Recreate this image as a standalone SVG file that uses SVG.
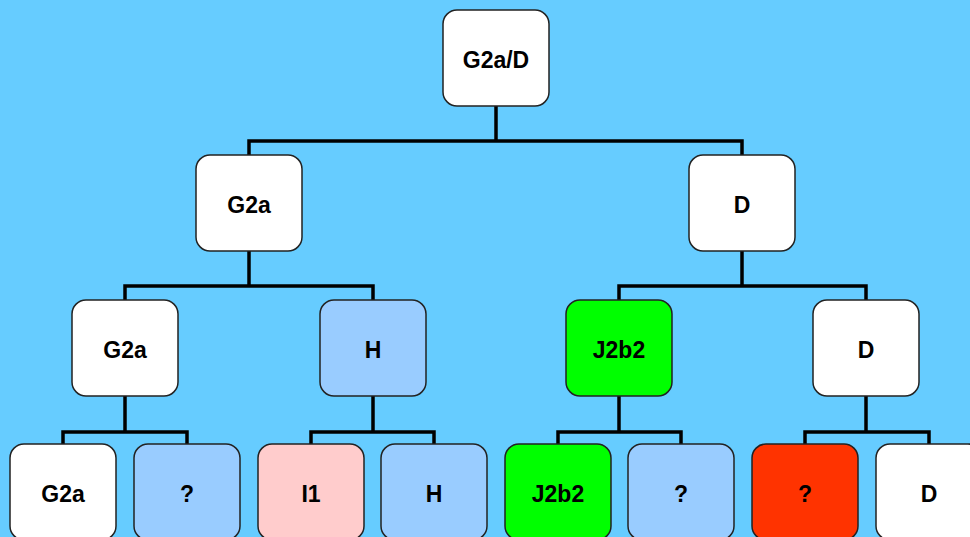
<svg xmlns="http://www.w3.org/2000/svg" width="970" height="537" viewBox="0 0 970 537">
<style>
.n rect{stroke:#222;stroke-width:1.5}
.n text{font-family:"Liberation Sans",Arial,sans-serif;font-weight:bold;font-size:23px;text-anchor:middle;fill:#000}
.w{fill:#fff}.b{fill:#99CCFF}.p{fill:#FFCCCC}.g{fill:#00FF00}.r{fill:#FF3300}
#connectors path{fill:none;stroke:#000;stroke-width:3.5}
</style>
<rect width="970" height="537" fill="#66CCFF"/>
<g id="connectors">
<path d="M496 106V141M249 155V141H742V155"/>
<path d="M249 251V286M125 300V286H373V300"/>
<path d="M742 251V286M619 300V286H866V300"/>
<path d="M125 396V432M63 444V432H187V444"/>
<path d="M373 396V432M311 444V432H434V444"/>
<path d="M619 396V432M558 444V432H681V444"/>
<path d="M866 396V432M805 444V432H929V444"/>
</g>
<g id="root" class="n"><rect class="w" x="443" y="10" width="106" height="96" rx="14"/><text x="496" y="68">G2a/D</text></g>
<g id="l1-g2a" class="n"><rect class="w" x="196" y="155" width="106" height="96" rx="14"/><text x="249" y="213">G2a</text></g>
<g id="l1-d" class="n"><rect class="w" x="689" y="155" width="106" height="96" rx="14"/><text x="742" y="213">D</text></g>
<g id="l2-g2a" class="n"><rect class="w" x="72" y="300" width="106" height="96" rx="14"/><text x="125" y="358">G2a</text></g>
<g id="l2-h" class="n"><rect class="b" x="320" y="300" width="106" height="96" rx="14"/><text x="373" y="358">H</text></g>
<g id="l2-j2b2" class="n"><rect class="g" x="566" y="300" width="106" height="96" rx="14"/><text x="619" y="358">J2b2</text></g>
<g id="l2-d" class="n"><rect class="w" x="813" y="300" width="106" height="96" rx="14"/><text x="866" y="358">D</text></g>
<g id="l3-g2a" class="n"><rect class="w" x="10" y="444" width="106" height="96" rx="14"/><text x="63" y="502">G2a</text></g>
<g id="l3-q1" class="n"><rect class="b" x="134" y="444" width="106" height="96" rx="14"/><text x="187" y="502">?</text></g>
<g id="l3-i1" class="n"><rect class="p" x="258" y="444" width="106" height="96" rx="14"/><text x="311" y="502">I1</text></g>
<g id="l3-h" class="n"><rect class="b" x="381" y="444" width="106" height="96" rx="14"/><text x="434" y="502">H</text></g>
<g id="l3-j2b2" class="n"><rect class="g" x="505" y="444" width="106" height="96" rx="14"/><text x="558" y="502">J2b2</text></g>
<g id="l3-q2" class="n"><rect class="b" x="628" y="444" width="106" height="96" rx="14"/><text x="681" y="502">?</text></g>
<g id="l3-q3" class="n"><rect class="r" x="752" y="444" width="106" height="96" rx="14"/><text x="805" y="502">?</text></g>
<g id="l3-d" class="n"><rect class="w" x="876" y="444" width="106" height="96" rx="14"/><text x="929" y="502">D</text></g>
</svg>
